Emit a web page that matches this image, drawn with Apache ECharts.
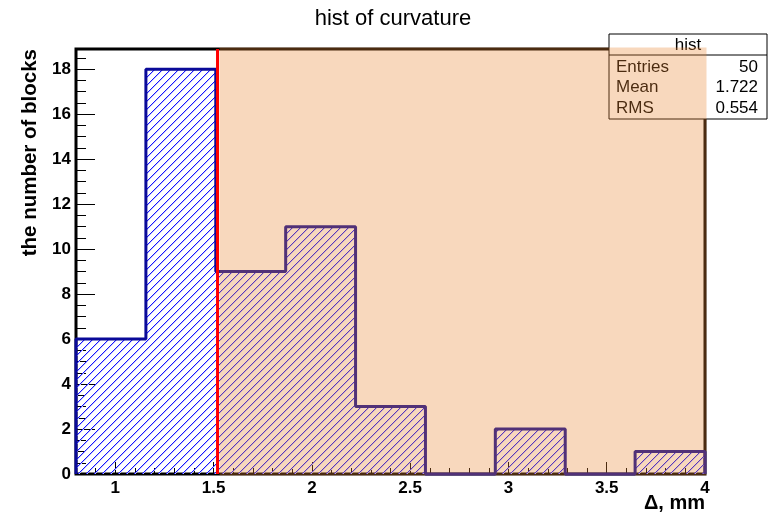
<!DOCTYPE html>
<html>
<head>
<meta charset="utf-8">
<script src="https://cdn.jsdelivr.net/npm/echarts@6/dist/echarts.min.js"></script>
<style>
  html, body { margin: 0; padding: 0; background: #fff; }
  #chart { width: 769px; height: 515px; }
</style>
</head>
<body>
<div id="chart"></div>
<script>
// histogram data
const binEdges = [0.8, 1.1556, 1.5111, 1.8667, 2.2222, 2.5778, 2.9333, 3.2889, 3.6444, 4.0]
const binCounts = [6, 18, 9, 11, 3, 0, 2, 0, 1]
const cutValue = 1.52
const yMax = 18.9

// axis ticks
const xMajorTicks = [1, 1.5, 2, 2.5, 3, 3.5, 4]
const yMajorTicks = [0, 2, 4, 6, 8, 10, 12, 14, 16, 18]

// stats box
const statLabels = ['Entries', 'Mean', 'RMS']
const statValues = ['50', '1.722', '0.554']

const FONT = '"Liberation Sans", Arial, Helvetica, sans-serif'

// minor ticks every 0.1 on x, 0.5 on y
const xMinorTicks = []
for (let i = 8; i <= 40; i++) {
  const v = i / 10
  if (!xMajorTicks.some(m => Math.abs(m - v) < 1e-6)) xMinorTicks.push(v)
}
const yMinorTicks = []
for (let i = 1; i <= 37; i++) {
  const v = i / 2
  if (!yMajorTicks.includes(v)) yMinorTicks.push(v)
}

// step outline of the histogram
const outline = [[binEdges[0], 0]]
binCounts.forEach((c, i) => {
  outline.push([binEdges[i], c], [binEdges[i + 1], c])
})
outline.push([binEdges[binEdges.length - 1], 0])

// hatch pattern "/" drawn pixel by pixel
const HS = 8
const hatch = document.createElement('canvas')
hatch.width = HS
hatch.height = HS
const hctx = hatch.getContext('2d')
for (let i = 0; i < HS; i++) {
  hctx.fillStyle = '#c4c4ff'
  hctx.fillRect((i + 1) % HS, HS - 1 - i, 1, 1)
  hctx.fillStyle = '#1414ff'
  hctx.fillRect(i, HS - 1 - i, 1, 1)
}

const chart = echarts.init(document.getElementById('chart'))

const statBox = {x: 609, y: 34, w: 158, h: 85}
const graphics = [
  {
    type: 'rect', z: 5, silent: true,
    shape: {x: statBox.x, y: statBox.y, width: statBox.w, height: statBox.h},
    style: {fill: '#fff', stroke: '#000', lineWidth: 1}
  },
  {
    type: 'line', z: 6, silent: true,
    shape: {x1: statBox.x, y1: 55, x2: statBox.x + statBox.w, y2: 55},
    style: {stroke: '#000', lineWidth: 1}
  },
  {
    type: 'text', z: 6, silent: true, x: statBox.x + statBox.w / 2, y: 45,
    style: {text: 'hist', font: '17px ' + FONT, fill: '#000', align: 'center', verticalAlign: 'middle'}
  },
  // axis titles
  {
    type: 'text', silent: true, x: 30, y: 49, rotation: Math.PI / 2,
    style: {text: 'the number of blocks', font: 'bold 20.5px ' + FONT, fill: '#000', align: 'right', verticalAlign: 'middle'}
  },
  {
    type: 'text', silent: true, x: 705, y: 503,
    style: {text: 'Δ, mm', font: 'bold 20px ' + FONT, fill: '#000', align: 'right', verticalAlign: 'middle'}
  }
]
statLabels.forEach((label, i) => {
  const y = 67 + i * 20.5
  graphics.push({
    type: 'text', z: 6, silent: true, x: 616, y: y,
    style: {text: label, font: '17px ' + FONT, fill: '#000', align: 'left', verticalAlign: 'middle'}
  })
  graphics.push({
    type: 'text', z: 6, silent: true, x: 758, y: y,
    style: {text: statValues[i], font: '17px ' + FONT, fill: '#000', align: 'right', verticalAlign: 'middle'}
  })
})

const option = {
  animation: false,
  title: {
    text: 'hist of curvature',
    left: 388,
    textAlign: 'center',
    top: 3,
    textStyle: {fontFamily: FONT, fontSize: 22, fontWeight: 'normal', color: '#000'}
  },
  grid: {
    left: 76, right: 64, top: 49, bottom: 41,
    show: true, borderColor: '#000', borderWidth: 3, backgroundColor: 'transparent'
  },
  xAxis: [
    {
      type: 'value', min: 0.8, max: 4.0, position: 'bottom',
      axisLine: {show: false},
      splitLine: {show: false},
      axisTick: {show: true, inside: true, length: 12, customValues: xMajorTicks, lineStyle: {color: '#000', width: 1}},
      axisLabel: {customValues: xMajorTicks, margin: 6, fontFamily: FONT, fontSize: 17, fontWeight: 'bold', color: '#000'}
    },
    {
      type: 'value', min: 0.8, max: 4.0, position: 'bottom',
      axisLine: {show: false},
      splitLine: {show: false},
      axisTick: {show: true, inside: true, length: 6, customValues: xMinorTicks, lineStyle: {color: '#000', width: 1}},
      axisLabel: {show: false}
    }
  ],
  yAxis: [
    {
      type: 'value', min: 0, max: yMax, position: 'left',
      axisLine: {show: false},
      splitLine: {show: false},
      axisTick: {show: true, inside: true, length: 19, customValues: yMajorTicks, lineStyle: {color: '#000', width: 1}},
      axisLabel: {customValues: yMajorTicks, margin: 5, fontFamily: FONT, fontSize: 17, fontWeight: 'bold', color: '#000'}
    },
    {
      type: 'value', min: 0, max: yMax, position: 'left',
      axisLine: {show: false},
      splitLine: {show: false},
      axisTick: {show: true, inside: true, length: 10, customValues: yMinorTicks, lineStyle: {color: '#000', width: 1}},
      axisLabel: {show: false}
    }
  ],
  graphic: graphics,
  series: [
    {
      name: 'hist',
      type: 'line',
      data: outline,
      symbol: 'none',
      clip: false,
      z: 3,
      silent: true,
      lineStyle: {color: '#0a0a99', width: 3},
      areaStyle: {color: {image: hatch, repeat: 'repeat'}, opacity: 1, origin: 'start'}
    },
    {
      // shaded region above the cut
      type: 'custom',
      z: 10,
      silent: true,
      clip: false,
      data: [[cutValue + 0.01, binEdges[binEdges.length - 1], yMax]],
      renderItem: (params, api) => {
        const p0 = api.coord([api.value(0), api.value(2)])
        const p1 = api.coord([api.value(1), 0])
        return {
          type: 'rect',
          shape: {x: p0[0], y: p0[1] - 1.5, width: p1[0] - p0[0] + 1.5, height: p1[1] - p0[1] + 3},
          style: {fill: 'rgba(233,135,50,0.32)'}
        }
      }
    },
    {
      // cut line
      type: 'custom',
      z: 11,
      silent: true,
      clip: false,
      data: [[cutValue, yMax]],
      renderItem: (params, api) => {
        const top = api.coord([api.value(0), api.value(1)])
        const bottom = api.coord([api.value(0), 0])
        return {
          type: 'line',
          shape: {x1: top[0], y1: top[1], x2: bottom[0], y2: bottom[1]},
          style: {stroke: '#ff0000', lineWidth: 3}
        }
      }
    }
  ]
}

chart.setOption(option)
</script>
</body>
</html>
